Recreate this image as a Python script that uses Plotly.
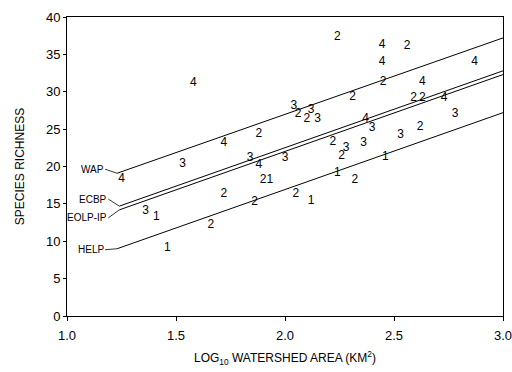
import plotly.graph_objects as go

# Points: digit = region group
g1_x = [1.41, 1.46, 1.93, 2.12, 2.24, 2.46]
g1_y = [13.3, 9.1, 18.2, 15.4, 19.1, 21.3]

g2_x = [2.24, 2.56, 2.45, 2.31, 2.59, 2.63, 2.62, 1.88, 2.22, 1.72, 1.86, 2.05,
        1.90, 1.66, 2.32, 2.06, 2.10, 2.26]
g2_y = [37.3, 36.1, 31.3, 29.3, 29.2, 29.2, 25.3, 24.4, 23.3, 16.3, 15.3, 16.3,
        18.2, 12.2, 18.2, 27.0, 26.4, 21.4]

g3_x = [1.53, 1.36, 1.84, 2.00, 2.04, 2.12, 2.15, 2.28, 2.36, 2.40, 2.53, 2.78]
g3_y = [20.3, 14.1, 21.2, 21.2, 28.1, 27.5, 26.4, 22.5, 23.2, 25.2, 24.2, 27.0]

g4_x = [1.25, 1.58, 1.72, 1.88, 2.445, 2.445, 2.63, 2.87, 2.73, 2.37]
g4_y = [18.3, 31.2, 23.2, 20.2, 36.3, 34.0, 31.3, 34.0, 29.2, 26.4]

# Regression lines (endpoints)
line_names = ["WAP", "ECBP", "EOLP-IP", "HELP"]
line_x = [[1.23, 3.0], [1.24, 3.0], [1.24, 3.0], [1.23, 3.0]]
line_y = [[19.1, 37.2], [14.7, 32.8], [14.2, 32.3], [9.0, 27.2]]

x_ticks = [1.0, 1.5, 2.0, 2.5, 3.0]
x_tick_text = ["1.0", "1.5", "2.0", "2.5", "3.0"]
y_ticks = [0, 5, 10, 15, 20, 25, 30, 35, 40]

FONT = "Liberation Sans, Arial, Helvetica, sans-serif"

fig = go.Figure()

for lx, ly in zip(line_x, line_y):
    fig.add_trace(go.Scatter(x=lx, y=ly, mode="lines",
                             line=dict(color="black", width=1),
                             hoverinfo="skip", showlegend=False))

for gx, gy, lab in [(g1_x, g1_y, "1"), (g2_x, g2_y, "2"),
                    (g3_x, g3_y, "3"), (g4_x, g4_y, "4")]:
    fig.add_trace(go.Scatter(x=gx, y=gy, mode="text", text=[lab] * len(gx),
                             textposition="middle center",
                             textfont=dict(family=FONT, size=12, color="black"),
                             hoverinfo="skip", showlegend=False))

# Callout labels for lines
offsets = {"WAP": (-12, -4), "ECBP": (-11, -7), "EOLP-IP": (-11, 8), "HELP": (-12, 1)}
for name, lx, ly in zip(line_names, line_x, line_y):
    ax, ay = offsets[name]
    fig.add_annotation(x=lx[0], y=ly[0], ax=ax, ay=ay, xref="x", yref="y",
                       text=name, showarrow=True, arrowhead=0, arrowwidth=0.8,
                       arrowcolor="black", xanchor="right", yanchor="middle",
                       borderpad=0,
                       font=dict(family=FONT, size=10, color="black"))

fig.update_layout(
    width=512, height=372,
    margin=dict(l=67, r=9, t=17, b=56),
    paper_bgcolor="white", plot_bgcolor="white",
    font=dict(family=FONT, color="black"),
    xaxis=dict(range=[1.0, 3.0], tickvals=x_ticks, ticktext=x_tick_text,
               ticks="outside", ticklen=4, tickcolor="black",
               ticklabelstandoff=3, automargin=False, ticklabeloverflow="allow",
               showline=True, linecolor="black", linewidth=1, mirror=True,
               showgrid=False, zeroline=False,
               tickfont=dict(family=FONT, size=13),
               title=dict(text="LOG<sub>10</sub> WATERSHED AREA (KM<sup>2</sup>)",
                          font=dict(family=FONT, size=12), standoff=12)),
    yaxis=dict(range=[0, 40], tickvals=y_ticks,
               ticks="outside", ticklen=3, tickcolor="black", automargin=False,
               ticklabeloverflow="allow",
               showline=True, linecolor="black", linewidth=1, mirror=True,
               showgrid=False, zeroline=False,
               tickfont=dict(family=FONT, size=13),
               title=dict(text="SPECIES RICHNESS",
                          font=dict(family=FONT, size=12), standoff=18)),
)

fig.write_html("out.html")
